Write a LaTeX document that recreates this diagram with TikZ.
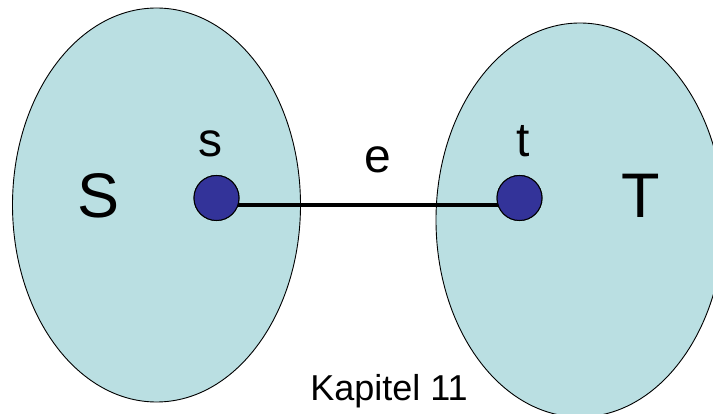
\documentclass[tikz,border=0pt]{standalone}
\usepackage{fontspec}
\setmainfont{Liberation Sans}
\usetikzlibrary{shapes.geometric}
\definecolor{setfill}{HTML}{BADFE2}
\definecolor{vertexfill}{HTML}{333399}
\tikzset{
  setblob/.style={ellipse, draw=black, line width=0.9pt, fill=setfill,
    minimum width=288pt, minimum height=394pt, inner sep=0pt},
  vertex/.style={circle, draw=black, line width=1pt, fill=vertexfill,
    minimum size=45pt, inner sep=0pt},
  edgeline/.style={line width=4pt, draw=black},
  biglabel/.style={anchor=base, inner sep=0pt, font=\fontsize{63}{70}\selectfont},
  smalllabel/.style={anchor=base, inner sep=0pt, font=\fontsize{48}{56}\selectfont},
  caption/.style={anchor=base, inner sep=0pt, font=\fontsize{36}{42}\selectfont}
}
\begin{document}
\begin{tikzpicture}[x=1pt,y=-1pt]
  \useasboundingbox (0,0) rectangle (713,414);
  % the two vertex sets
  \node[setblob] (Sset) at (156.5,205) {};
  \node[setblob] (Tset) at (580,220) {};
  % vertices
  \node[vertex] (s) at (216.5,198) {};
  \node[vertex] (t) at (519.5,198) {};
  % the crossing edge
  \draw[edgeline] (s.-19) -- (t.199);
  \node[vertex] at (s) {};
  \node[vertex] at (t) {};
  % labels
  \node[biglabel] (Slab) at (98.5,218) {S};
  \node[biglabel] (Tlab) at (641,218) {T};
  \node[smalllabel] (slab) at (210,157) {s};
  \node[smalllabel] (tlab) at (523.5,157) {t};
  \node[smalllabel] (elab) at (377.5,173) {e};
  \node[caption] (cap) at (389,400) {Kapitel 11};
\end{tikzpicture}
\end{document}
